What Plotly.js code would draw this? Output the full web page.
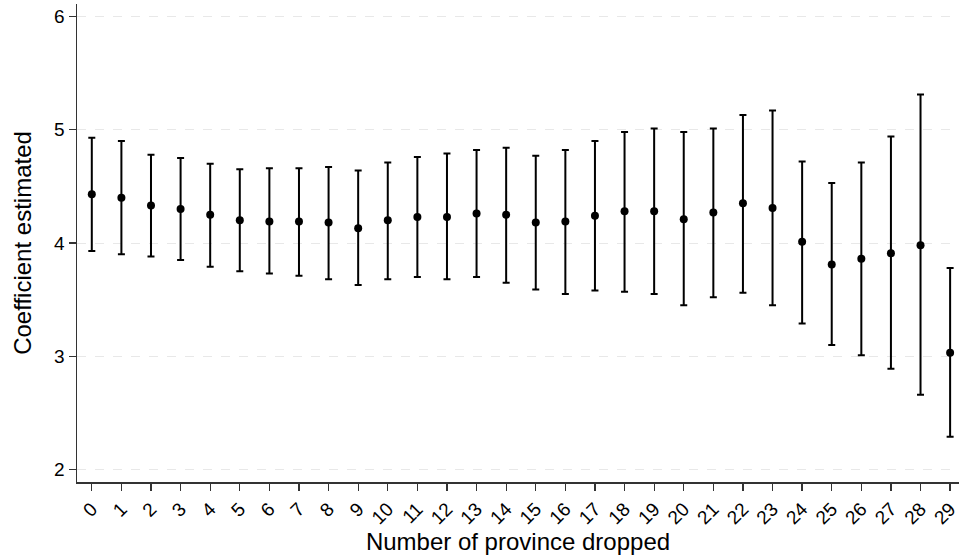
<!DOCTYPE html>
<html>
<head>
<meta charset="utf-8">
<script src="https://cdn.plot.ly/plotly-3.0.1.min.js"></script>
<style>html,body{margin:0;padding:0;background:#fff;}#chart{width:959px;height:556px;}</style>
</head>
<body>
<div id="chart"></div>
<script>
// Number of province dropped
const dropped = [0,1,2,3,4,5,6,7,8,9,10,11,12,13,14,15,16,17,18,19,20,21,22,23,24,25,26,27,28,29];
// Coefficient estimates
const coef = [4.43,4.40,4.33,4.30,4.25,4.20,4.19,4.19,4.18,4.13,4.20,4.23,4.23,4.26,4.25,4.18,4.19,4.24,4.28,4.28,4.21,4.27,4.35,4.31,4.01,3.81,3.86,3.91,3.98,3.03];
// Upper bounds of confidence interval
const upper = [4.93,4.90,4.78,4.75,4.70,4.65,4.66,4.66,4.67,4.64,4.71,4.76,4.79,4.82,4.84,4.77,4.82,4.90,4.98,5.01,4.98,5.01,5.13,5.17,4.72,4.53,4.71,4.94,5.31,3.78];
// Lower bounds of confidence interval
const lower = [3.93,3.90,3.88,3.85,3.79,3.75,3.73,3.71,3.68,3.63,3.68,3.70,3.68,3.70,3.65,3.59,3.55,3.58,3.57,3.55,3.45,3.52,3.56,3.45,3.29,3.10,3.01,2.89,2.66,2.29];
const yTicks = [2,3,4,5,6];

const errPlus = upper.map((u,i)=>u-coef[i]);
const errMinus = lower.map((l,i)=>coef[i]-l);

const font = 'Liberation Sans, Arial, Helvetica, sans-serif';

const trace = {
  x: dropped,
  y: coef,
  type: 'scatter',
  mode: 'markers',
  marker: {color:'#000', size:8},
  error_y: {type:'data', symmetric:false, array: errPlus, arrayminus: errMinus, color:'#000', thickness:2, width:3.5},
  hoverinfo:'x+y'
};

const layout = {
  width: 959, height: 556,
  margin: {l:77, r:0, t:4, b:74},
  paper_bgcolor:'#fff', plot_bgcolor:'#fff',
  showlegend:false,
  font:{family:font, color:'#000'},
  xaxis:{
    range:[-0.5, 29.3],
    tickmode:'array', tickvals: dropped, ticktext: dropped.map(String),
    tickangle:-45,
    ticklabeloverflow:'allow',
    ticks:'outside', ticklen:7, tickwidth:1.3, tickcolor:'#333',
    showline:true, linecolor:'#333', linewidth:1.5,
    showgrid:false, zeroline:false,
    tickfont:{size:19, family:font, color:'#000'},
    title:{text:'Number of province dropped', font:{size:24, family:font, color:'#000'}, standoff:3},
    automargin:false
  },
  yaxis:{
    range:[1.89, 6.11],
    tickmode:'array', tickvals: yTicks, ticktext: yTicks.map(String),
    ticks:'outside', ticklen:7, tickwidth:1.3, tickcolor:'#333',
    showline:true, linecolor:'#333', linewidth:1.5,
    showgrid:true, gridcolor:'#e8e8e8', gridwidth:1, griddash:'dash',
    zeroline:false,
    tickfont:{size:19, family:font, color:'#000'},
    title:{text:'Coefficient estimated', font:{size:24, family:font, color:'#000'}, standoff:15},
    automargin:false
  }
};

Plotly.newPlot('chart', [trace], layout, {displayModeBar:false, staticPlot:true});
</script>
</body>
</html>
